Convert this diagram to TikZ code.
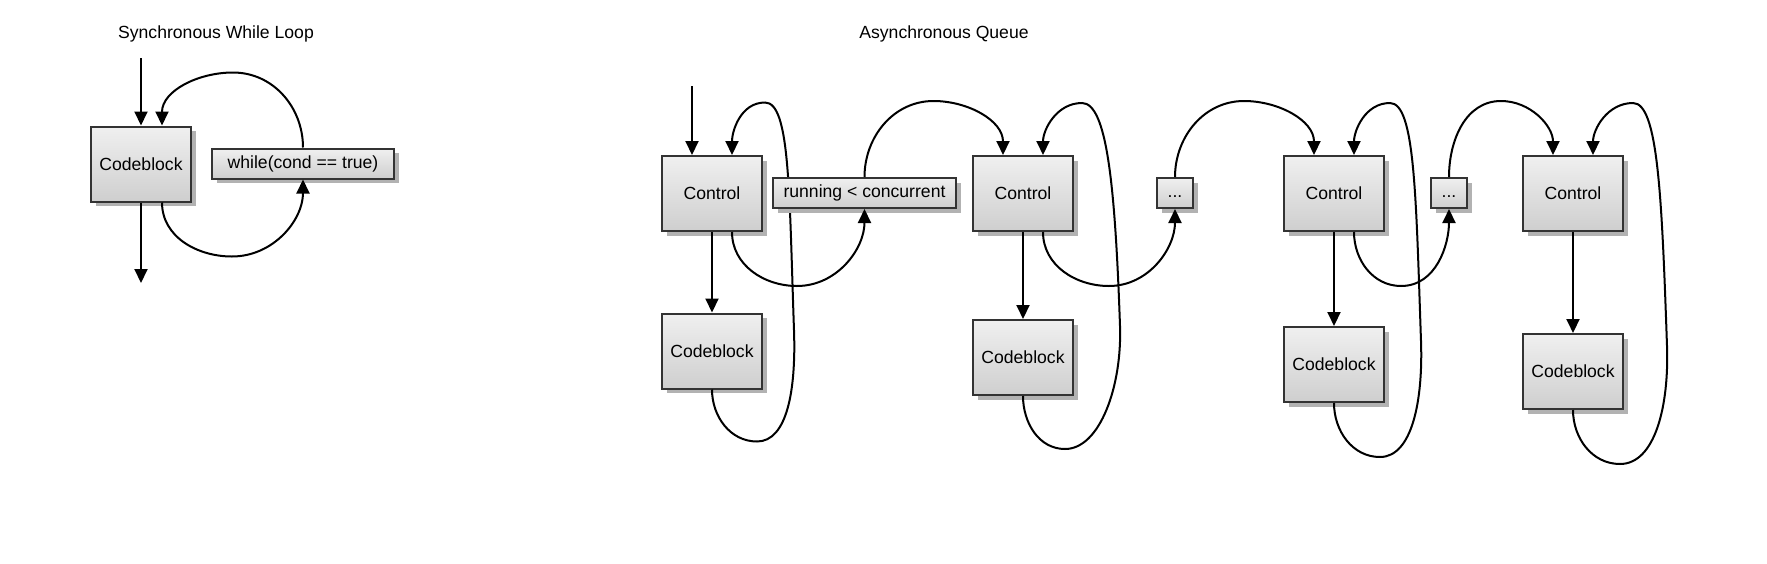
\documentclass[tikz,border=0pt]{standalone}
\usepackage{fontspec}
\setmainfont{Liberation Sans}
\usetikzlibrary{arrows.meta,shadows}

\begin{document}
\begin{tikzpicture}[x=1pt,y=1pt,
    font=\fontsize{17.6}{21}\selectfont,
    block/.style={draw=black!80, line width=2pt, top color=black!6, bottom color=black!19,
        drop shadow={shadow xshift=4.5pt, shadow yshift=-4.5pt, fill=black!30, opacity=1},
        minimum width=100pt, minimum height=75pt, inner sep=0pt},
    condition/.style={block, minimum height=30pt, text height=13pt, text depth=4pt},
    flow/.style={line width=2pt, -{Triangle[width=13pt,length=14pt]}}]
    \useasboundingbox (0,0) rectangle (1767,-563);

    \node [] (synctitle) at (216,-34) {Synchronous While Loop};
    \node [] (asynctitle) at (944,-34) {Asynchronous Queue};

    \node [block] (syncblock) at (141,-164) {Codeblock};
    \node [condition, minimum width=182pt] (whilecond) at (303,-163.5) {while(cond == true)};
    \coordinate (syncin) at (141,-58);
    \coordinate (syncout) at (141,-283);
    \draw [flow] (syncin) -- (syncblock);
    \draw [flow] (syncblock) -- (syncout);
    \draw [flow] (whilecond.north) to[out=90,in=0] ++(-70,75) to[out=180,in=90] ([xshift=21pt]syncblock.north);
    \draw [flow] ([xshift=21pt]syncblock.south) to[out=-90,in=180] ++(70,-54) to[out=0,in=-90] (whilecond.south);

    \node [block] (control1) at (712,-193.5) {Control};
    \node [block] (codeblock1) at (712,-351) {Codeblock};
    \node [block] (control2) at (1023,-193.5) {Control};
    \node [block] (codeblock2) at (1023,-357.5) {Codeblock};
    \node [block] (control3) at (1334,-193.5) {Control};
    \node [block] (codeblock3) at (1334,-364.5) {Codeblock};
    \node [block] (control4) at (1573,-193.5) {Control};
    \node [block] (codeblock4) at (1573,-371.5) {Codeblock};

    \draw [flow] (codeblock1.south) to[out=-90,in=180] ++(45,-52) to[out=0,in=-88,out distance=30pt,in distance=60pt] ++(37,111) to[out=92,in=0,out distance=140pt,in distance=25pt] ++(-29,228) to[out=180,in=90] ([xshift=20pt]control1.north);
    \draw [flow] (codeblock2.south) to[out=-90,in=180] ++(42,-53) to[out=0,in=-88,out distance=35pt,in distance=60pt] ++(55,123) to[out=92,in=0,out distance=140pt,in distance=25pt] ++(-38,223) to[out=180,in=90] ([xshift=20pt]control2.north);
    \draw [flow] (codeblock3.south) to[out=-90,in=180] ++(46,-54) to[out=0,in=-88,out distance=32pt,in distance=60pt] ++(41,116) to[out=92,in=0,out distance=145pt,in distance=25pt] ++(-31,238) to[out=180,in=90] ([xshift=20pt]control3.north);
    \draw [flow] (codeblock4.south) to[out=-90,in=180] ++(47,-54) to[out=0,in=-88,out distance=35pt,in distance=60pt] ++(47,118) to[out=92,in=0,out distance=150pt,in distance=25pt] ++(-34,243) to[out=180,in=90] ([xshift=20pt]control4.north);

    \node [condition, minimum width=183pt] (running) at (864.5,-193) {running < concurrent};
    \node [condition, minimum width=36pt] (dots1) at (1175,-193) {...};
    \node [condition, minimum width=36pt] (dots2) at (1449,-193) {...};

    \coordinate (asyncin) at (692,-86);
    \draw [flow] (asyncin) -- ([xshift=-20pt]control1.north);
    \draw [flow] (control1) -- (codeblock1);
    \draw [flow] (control2) -- (codeblock2);
    \draw [flow] (control3) -- (codeblock3);
    \draw [flow] (control4) -- (codeblock4);

    \draw [flow] ([xshift=20pt]control1.south) to[out=-90,in=180] ++(65,-54) to[out=0,in=-90] (running.south);
    \draw [flow] ([xshift=20pt]control2.south) to[out=-90,in=180] ++(66,-54) to[out=0,in=-90] (dots1.south);
    \draw [flow] ([xshift=20pt]control3.south) to[out=-90,in=180] ++(47,-54) to[out=0,in=-90] (dots2.south);

    \draw [flow] (running.north) to[out=90,in=180] ++(69,76) to[out=0,in=90] ([xshift=-20pt]control2.north);
    \draw [flow] (dots1.north) to[out=90,in=180] ++(69,76) to[out=0,in=90] ([xshift=-20pt]control3.north);
    \draw [flow] (dots2.north) to[out=90,in=180] ++(52,76) to[out=0,in=90] ([xshift=-20pt]control4.north);
\end{tikzpicture}
\end{document}
